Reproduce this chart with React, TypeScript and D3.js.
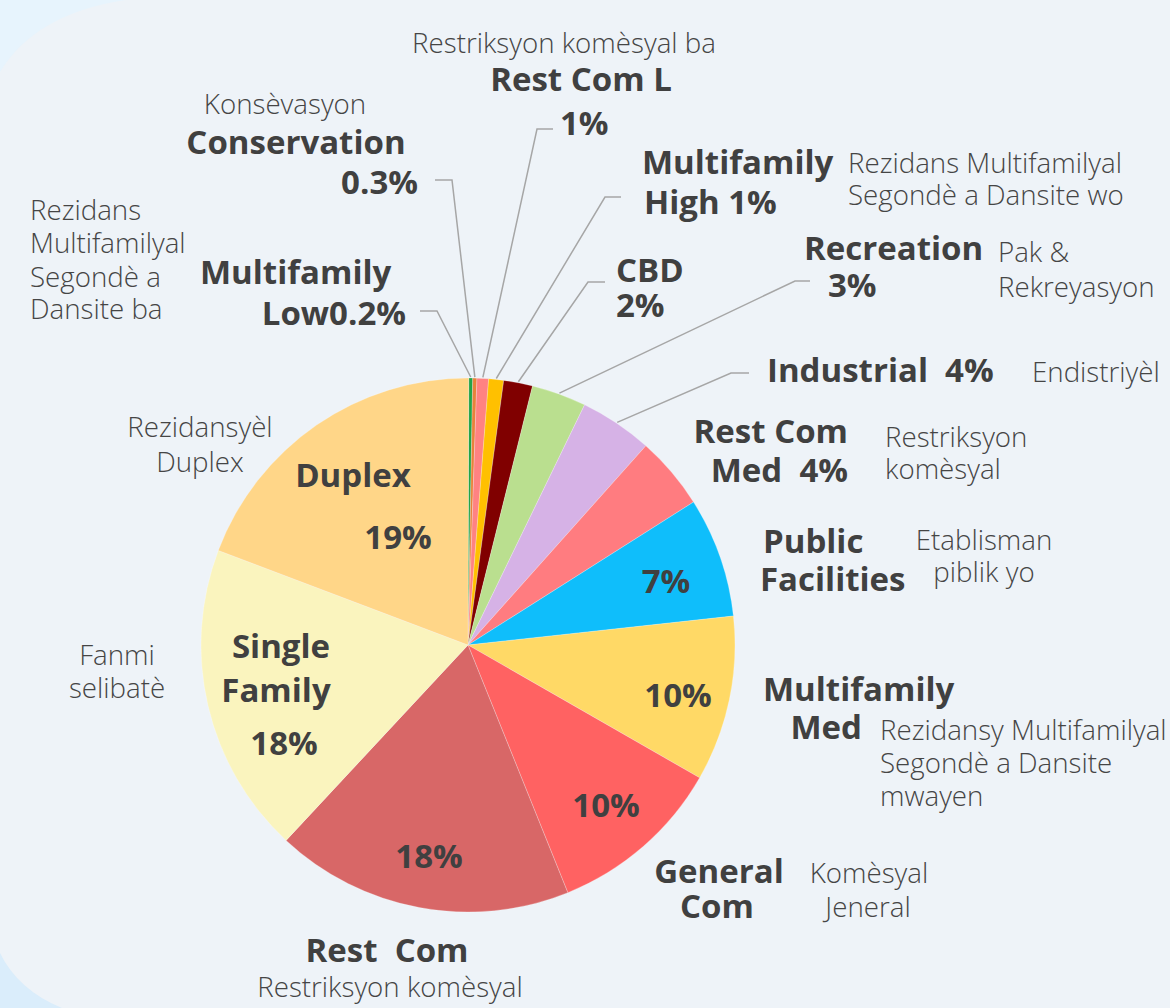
import React from "react";
import * as d3 from "d3";

const W = 1170;
const H = 1008;

const categories = [
  "Multifamily Low", "Conservation", "Rest Com L", "Multifamily High", "CBD",
  "Recreation", "Industrial", "Rest Com Med", "Public Facilities", "Multifamily Med",
  "General Com", "Rest Com", "Single Family", "Duplex",
];
const shares = [0.24, 0.25, 0.7, 0.9, 1.75, 3.3, 4.4, 4.4, 7.25, 10, 10.6, 18, 18.8, 19.25];
const pctLabels = ["0.2%", "0.3%", "1%", "1%", "2%", "3%", "4%", "4%", "7%", "10%", "10%", "18%", "18%", "19%"];
const sliceColors = [
  "#22A348", "#E8823A", "#FF8282", "#FFC000", "#800000", "#BADF8F", "#D6B2E6",
  "#FF7C80", "#0FBEFB", "#FFD966", "#FF6262", "#D86767", "#FAF4BE", "#FFD688",
];

const CX = 468;
const CY = 645;
const R = 267;
const START = (0.15 * Math.PI) / 180;

type Line = { t: string; x: number; y: number; a?: "start" | "middle" | "end"; b?: boolean };
type Lay = { lines: Line[]; leader?: { x0: number; x1: number; y: number } };

const layout: Lay[] = [
  {
    lines: [
      { t: "Multifamily", x: 200, y: 284, a: "start", b: true },
      { t: "Low" + pctLabels[0], x: 406, y: 325, a: "end", b: true },
      { t: "Rezidans", x: 30, y: 220 },
      { t: "Multifamilyal", x: 30, y: 253 },
      { t: "Segondè a", x: 30, y: 287 },
      { t: "Dansite ba", x: 30, y: 319 },
    ],
    leader: { x0: 420, x1: 437, y: 311 },
  },
  {
    lines: [
      { t: "Konsèvasyon", x: 285, y: 114, a: "middle" },
      { t: "Conservation", x: 296, y: 154, a: "middle", b: true },
      { t: pctLabels[1], x: 418, y: 194, a: "end", b: true },
    ],
    leader: { x0: 435, x1: 452, y: 180 },
  },
  {
    lines: [
      { t: "Restriksyon komèsyal ba", x: 564, y: 53, a: "middle" },
      { t: "Rest Com L", x: 581, y: 91, a: "middle", b: true },
      { t: pctLabels[2], x: 560, y: 135, a: "start", b: true },
    ],
    leader: { x0: 553, x1: 537, y: 129 },
  },
  {
    lines: [
      { t: "Multifamily", x: 642, y: 174, a: "start", b: true },
      { t: "High " + pctLabels[3], x: 644, y: 214, a: "start", b: true },
      { t: "Rezidans Multifamilyal", x: 848, y: 173 },
      { t: "Segondè a Dansite wo", x: 848, y: 205 },
    ],
    leader: { x0: 621, x1: 605, y: 197 },
  },
  {
    lines: [
      { t: "CBD", x: 616, y: 282, a: "start", b: true },
      { t: pctLabels[4], x: 616, y: 317, a: "start", b: true },
    ],
    leader: { x0: 605, x1: 588, y: 282 },
  },
  {
    lines: [
      { t: "Recreation", x: 804, y: 260, a: "start", b: true },
      { t: pctLabels[5], x: 828, y: 297, a: "start", b: true },
      { t: "Pak &", x: 998, y: 262 },
      { t: "Rekreyasyon", x: 998, y: 297 },
    ],
    leader: { x0: 810, x1: 795, y: 281 },
  },
  {
    lines: [
      { t: "Industrial  " + pctLabels[6], x: 767, y: 382, a: "start", b: true },
      { t: "Endistriyèl", x: 1032, y: 382 },
    ],
    leader: { x0: 749, x1: 731, y: 373 },
  },
  {
    lines: [
      { t: "Rest Com", x: 848, y: 443, a: "end", b: true },
      { t: "Med  " + pctLabels[7], x: 848, y: 482, a: "end", b: true },
      { t: "Restriksyon", x: 885, y: 447 },
      { t: "komèsyal", x: 885, y: 479 },
    ],
  },
  {
    lines: [
      { t: pctLabels[8], x: 666, y: 593, a: "middle", b: true },
      { t: "Public", x: 763, y: 553, a: "start", b: true },
      { t: "Facilities", x: 760, y: 591, a: "start", b: true },
      { t: "Etablisman", x: 984, y: 550, a: "middle" },
      { t: "piblik yo", x: 984, y: 582, a: "middle" },
    ],
  },
  {
    lines: [
      { t: pctLabels[9], x: 678, y: 707, a: "middle", b: true },
      { t: "Multifamily", x: 763, y: 701, a: "start", b: true },
      { t: "Med", x: 862, y: 739, a: "end", b: true },
      { t: "Rezidansy Multifamilyal", x: 880, y: 740 },
      { t: "Segondè a Dansite", x: 880, y: 773 },
      { t: "mwayen", x: 880, y: 806 },
    ],
  },
  {
    lines: [
      { t: pctLabels[10], x: 606, y: 817, a: "middle", b: true },
      { t: "General", x: 719, y: 883, a: "middle", b: true },
      { t: "Com", x: 717, y: 918, a: "middle", b: true },
      { t: "Komèsyal", x: 869, y: 883, a: "middle" },
      { t: "Jeneral", x: 868, y: 917, a: "middle" },
    ],
  },
  {
    lines: [
      { t: pctLabels[11], x: 429, y: 868, a: "middle", b: true },
      { t: "Rest  Com", x: 387, y: 962, a: "middle", b: true },
      { t: "Restriksyon komèsyal", x: 390, y: 997, a: "middle" },
    ],
  },
  {
    lines: [
      { t: "Single", x: 281, y: 658, a: "middle", b: true },
      { t: "Family", x: 276, y: 702, a: "middle", b: true },
      { t: pctLabels[12], x: 284, y: 755, a: "middle", b: true },
      { t: "Fanmi", x: 117, y: 665, a: "middle" },
      { t: "selibatè", x: 117, y: 698, a: "middle" },
    ],
  },
  {
    lines: [
      { t: "Duplex", x: 353, y: 487, a: "middle", b: true },
      { t: pctLabels[13], x: 398, y: 549, a: "middle", b: true },
      { t: "Rezidansyèl", x: 200, y: 437, a: "middle" },
      { t: "Duplex", x: 200, y: 472, a: "middle" },
    ],
  },
];

export default function App() {
  const pie = d3
    .pie<number>()
    .sort(null)
    .value((d) => d)
    .startAngle(START)
    .endAngle(START + 2 * Math.PI);
  const arcs = pie(shares);
  const arc = d3.arc<d3.PieArcDatum<number>>().innerRadius(0).outerRadius(R);

  const FONT = "'Open Sans', 'Noto Sans', sans-serif";

  return (
    <svg
      width={W}
      height={H}
      viewBox={`0 0 ${W} ${H}`}
      style={{ position: "absolute", left: 0, top: 0, display: "block" }}
    >
      <rect x={0} y={0} width={W} height={H} fill="#EEF3F8" />
      <path d="M0,0 L125,0 Q35,14 0,72 Z" fill="#E7F4FD" />
      <path d="M0,953 Q18,990 62,1008 L0,1008 Z" fill="#DAEDFB" />
      <g transform={`translate(${CX},${CY})`}>
        {arcs.map((a, i) => (
          <path
            key={categories[i]}
            d={arc(a) || ""}
            fill={sliceColors[i]}
            stroke="#ffffff"
            strokeOpacity={0.4}
            strokeWidth={0.6}
          />
        ))}
      </g>
      <g fill="none" stroke="#A6A6A6" strokeWidth={1.5}>
        {arcs.map((a, i) => {
          const L = layout[i].leader;
          if (!L) return null;
          const mid = (a.startAngle + a.endAngle) / 2;
          const px = CX + (R + 1) * Math.sin(mid);
          const py = CY - (R + 1) * Math.cos(mid);
          const line = d3.line()([
            [L.x0, L.y],
            [L.x1, L.y],
            [px, py],
          ]);
          return <path key={"l" + i} d={line || ""} />;
        })}
      </g>
      <g style={{ fontFamily: FONT }}>
        {layout.map((l, i) =>
          l.lines.map((ln, j) => (
            <text
              key={i + "-" + j}
              x={ln.x}
              y={ln.y}
              xmlSpace="preserve"
              style={{ whiteSpace: "pre" }}
              textAnchor={ln.a || "start"}
              fontSize={ln.b ? 33 : 27.7}
              fontWeight={ln.b ? 700 : 300}
              fill={ln.b ? "#404040" : "#454545"}
            >
              {ln.t}
            </text>
          ))
        )}
      </g>
    </svg>
  );
}
